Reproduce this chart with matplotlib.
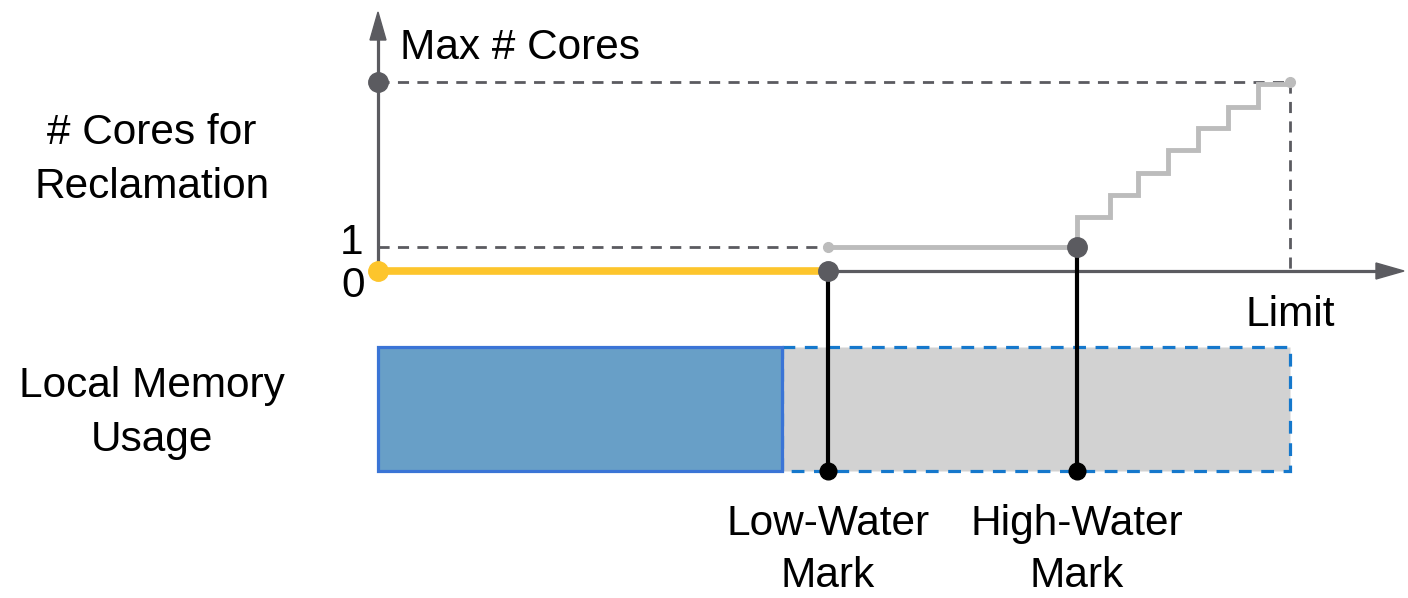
import matplotlib.pyplot as plt
from matplotlib.patches import Rectangle, Polygon

plt.rcParams['font.family'] = ['Liberation Sans', 'DejaVu Sans']

# ==== diagram values (pixel layout, y grows downward) ====
x_origin = 378
x_low = 828        # low-water mark
x_high = 1077      # high-water mark
x_limit = 1290
x_used = 782       # current local memory usage

y_zero = 271
y_one = 247
y_max = 82

# staircase between high-water mark and limit
step_x = [1077, 1077, 1110, 1138, 1168, 1198, 1228, 1258, 1290]
step_y = [247, 217, 195, 173, 150, 128, 107, 84, 84]

bar_top, bar_bottom = 347, 471

DARK = '#5b5b60'
LIGHT = '#bcbcbc'
YELLOW = '#fdc52c'

fig = plt.figure(figsize=(14.08, 5.98), dpi=100)
ax = fig.add_axes([0, 0, 1, 1])
ax.set_xlim(0, 1408)
ax.set_ylim(598, 0)
ax.axis('off')

# memory usage bar
ax.add_patch(Rectangle((x_used, bar_top), x_limit - x_used, bar_bottom - bar_top,
                       facecolor='#d2d2d2', edgecolor='#1578cc', lw=2.3,
                       linestyle=(0, (4, 3)), zorder=1))
ax.add_patch(Rectangle((x_origin, bar_top), x_used - x_origin, bar_bottom - bar_top,
                       facecolor='#689fc7', edgecolor='#3a74d6', lw=2.3, zorder=2))

# dashed guides
dash = (0, (4, 3))
ax.plot([x_origin, x_limit], [y_max, y_max], color=DARK, lw=2, ls=dash, zorder=3)
ax.plot([x_origin, x_low], [y_one, y_one], color=DARK, lw=2, ls=dash, zorder=3)
ax.plot([x_limit, x_limit], [y_max, y_zero], color=DARK, lw=2, ls=dash, zorder=3)

# gray policy line
ax.plot([x_low, x_high], [y_one, y_one], color=LIGHT, lw=3.5, zorder=4)
ax.step(step_x, step_y, where='post', color=LIGHT, lw=3.5,
        solid_joinstyle='miter', zorder=4)
ax.plot([x_low, x_limit], [y_one, y_max], 'o', color=LIGHT, ms=7, ls='none', zorder=5)

# axes with arrows
ax.plot([x_origin, x_origin], [y_zero, 30], color=DARK, lw=2.3, zorder=6)
ax.plot([x_origin, 1380], [y_zero, y_zero], color=DARK, lw=2.3, zorder=6)
ax.add_patch(Polygon([[x_origin, 12], [x_origin - 8, 40], [x_origin + 8, 40]],
                     closed=True, color=DARK, zorder=6))
ax.add_patch(Polygon([[1404, y_zero], [1376, y_zero - 8], [1376, y_zero + 8]],
                     closed=True, color=DARK, zorder=6))

# current cores (yellow)
ax.plot([x_origin, x_low], [y_zero, y_zero], color=YELLOW, lw=5.5,
        solid_capstyle='butt', zorder=7)
ax.plot([x_origin], [y_zero], 'o', color=YELLOW, ms=14, zorder=8)

# water marks
ax.plot([x_low, x_low], [y_zero, bar_bottom], color='black', lw=3, zorder=7)
ax.plot([x_high, x_high], [y_one, bar_bottom], color='black', lw=3, zorder=7)
ax.plot([x_low, x_high], [bar_bottom, bar_bottom], 'o', color='black', ms=12,
        ls='none', zorder=8)
ax.plot([x_origin, x_low, x_high], [y_max, y_zero, y_one], 'o', color=DARK,
        ms=14, ls='none', zorder=8)

# text
fs = 30.5
ls_ = 1.48
ax.text(400, 48, 'Max # Cores', fontsize=fs, ha='left', va='center')
ax.text(152, 160, '# Cores for\nReclamation', fontsize=fs, ha='center',
        va='center', linespacing=ls_)
ax.text(352, 243, '1', fontsize=fs, ha='center', va='center')
ax.text(353, 286, '0', fontsize=fs, ha='center', va='center')
ax.text(1290, 315, 'Limit', fontsize=fs, ha='center', va='center')
ax.text(152, 413, 'Local Memory\nUsage', fontsize=fs, ha='center',
        va='center', linespacing=ls_)
ax.text(x_low, 550, 'Low-Water\nMark', fontsize=fs, ha='center', va='center',
        linespacing=1.4)
ax.text(x_high, 550, 'High-Water\nMark', fontsize=fs, ha='center', va='center',
        linespacing=1.4)

fig.savefig('out.png', dpi=100)
